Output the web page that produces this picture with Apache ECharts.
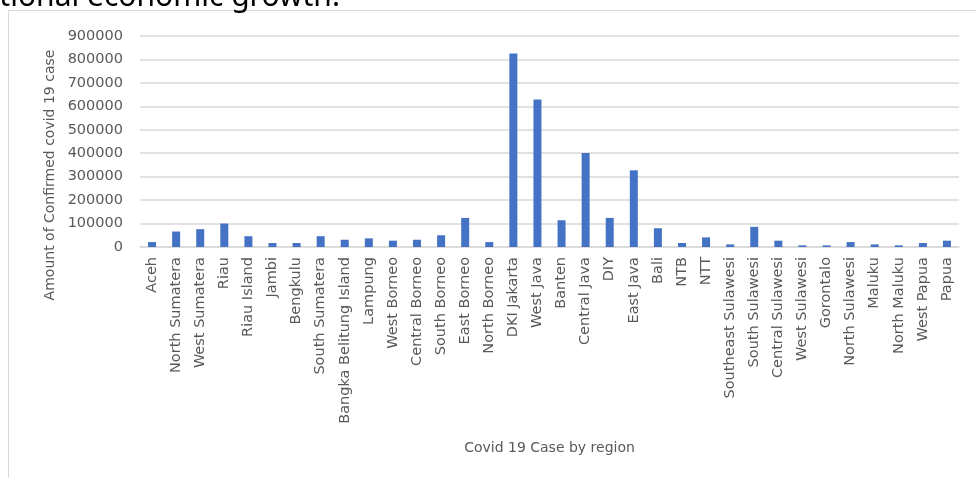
<!DOCTYPE html>
<html>
<head>
<meta charset="utf-8">
<script src="https://cdn.jsdelivr.net/npm/echarts@6/dist/echarts.min.js"></script>
<style>
  html, body { margin: 0; padding: 0; background: #ffffff; }
  #chart { width: 976px; height: 478px; }
</style>
</head>
<body>
<div id="chart"></div>
<script>
// Confirmed COVID-19 cases per Indonesian province
const regions = [
  'Aceh', 'North Sumatera', 'West Sumatera', 'Riau', 'Riau Island', 'Jambi',
  'Bengkulu', 'South Sumatera', 'Bangka Belitung Island', 'Lampung',
  'West Borneo', 'Central Borneo', 'South Borneo', 'East Borneo', 'North Borneo',
  'DKI Jakarta', 'West Java', 'Banten', 'Central Java', 'DIY', 'East Java',
  'Bali', 'NTB', 'NTT', 'Southeast Sulawesi', 'South Sulawesi',
  'Central Sulawesi', 'West Sulawesi', 'Gorontalo', 'North Sulawesi', 'Maluku',
  'North Maluku', 'West Papua', 'Papua'
];
const confirmedCases = [
  21000, 66000, 76000, 100000, 46000, 17000,
  17000, 46000, 31000, 37000,
  27000, 31000, 50000, 124000, 21000,
  825000, 629000, 114000, 401000, 124000, 327000,
  80000, 17000, 41000, 11000, 86000,
  27000, 7000, 7000, 21000, 11000,
  7000, 17000, 27000
];
const yTicks = { min: 0, max: 900000, interval: 100000 };

const FONT = 'DejaVu Sans';
const chart = echarts.init(document.getElementById('chart'), null, { renderer: 'canvas' });

chart.setOption({
  animation: false,
  backgroundColor: '#ffffff',
  grid: { left: 140, right: 17, top: 36, bottom: 231, containLabel: false },
  xAxis: {
    type: 'category',
    data: regions,
    name: 'Covid 19 Case by region',
    nameLocation: 'middle',
    nameGap: 194,
    nameTextStyle: { fontFamily: FONT, fontSize: 14, color: '#595959' },
    axisLine: { show: true, lineStyle: { color: '#d9d9d9', width: 1.5 } },
    axisTick: { show: false },
    axisLabel: {
      interval: 0, rotate: 90, margin: 10,
      fontFamily: FONT, fontSize: 14.5, color: '#595959'
    }
  },
  yAxis: {
    type: 'value',
    min: yTicks.min, max: yTicks.max, interval: yTicks.interval,
    axisLine: { show: false },
    axisTick: { show: false },
    axisLabel: {
      margin: 17, fontFamily: FONT, fontSize: 14.5, color: '#595959',
      formatter: (v) => String(v)
    },
    splitLine: { lineStyle: { color: '#d9d9d9', width: 1.5 } }
  },
  series: [{
    type: 'bar',
    data: confirmedCases,
    barWidth: 8,
    itemStyle: { color: '#4472c4' }
  }],
  graphic: [
    {
      type: 'rect',
      shape: { x: 8.5, y: 10.5, width: 1000, height: 500 },
      style: { fill: 'none', stroke: '#d9d9d9', lineWidth: 1 },
      z: -1
    },
    {
      type: 'text',
      x: -36, y: 12,
      style: {
        text: 'national economic growth.',
        font: '30px "Noto Sans"', fill: '#000000',
        textVerticalAlign: 'bottom'
      }
    },
    {
      type: 'text',
      x: 50, y: 175,
      rotation: Math.PI / 2,
      style: {
        text: 'Amount of Confirmed covid 19 case',
        font: '14px "DejaVu Sans"', fill: '#595959',
        textAlign: 'center', textVerticalAlign: 'middle'
      }
    }
  ]
});
</script>
</body>
</html>
